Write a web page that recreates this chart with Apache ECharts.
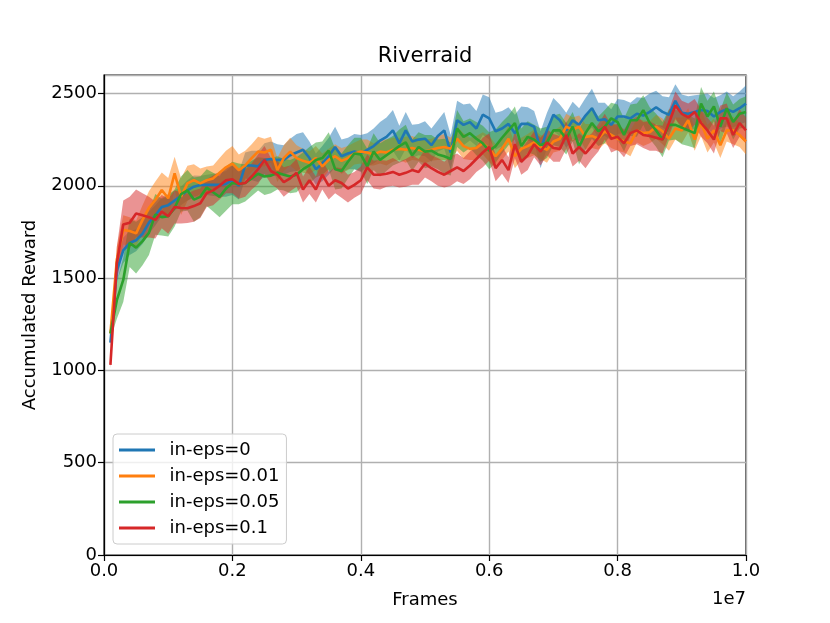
<!DOCTYPE html>
<html>
<head>
<meta charset="utf-8">
<script src="https://cdn.jsdelivr.net/npm/echarts@6/dist/echarts.min.js"></script>
<style>
html,body{margin:0;padding:0;background:#fff;}
#chart{width:830px;height:623px;}
</style>
</head>
<body>
<div id="chart"></div>
<script>
// Frames (x) : 1e5 .. 1e7, one point every 1e5 frames
const frames = Array.from({length:100}, (_, k) => (k + 1) * 1e5);
const seriesNames = ['in-eps=0', 'in-eps=0.01', 'in-eps=0.05', 'in-eps=0.1'];
const xTicks = ['0.0','0.2','0.4','0.6','0.8','1.0'];
const yTicks = [0, 500, 1000, 1500, 2000, 2500];

const epsBlue = [1150,1540,1650,1690,1705,1740,1800,1840,1885,1895,
 1920,1945,1975,1995,2004,2005,2005,2005,2010,2030,
 2000,2110,2110,2105,2140,2145,2140,2140,2165,2180,
 2195,2150,2090,2120,2160,2210,2160,2175,2185,2175,
 2195,2215,2245,2265,2300,2230,2300,2240,2250,2255,
 2220,2270,2300,2180,2355,2330,2345,2310,2385,2365,
 2295,2310,2335,2285,2335,2335,2320,2195,2300,2385,
 2355,2300,2355,2330,2380,2420,2355,2360,2330,2375,
 2375,2365,2390,2380,2400,2425,2400,2385,2460,2395,
 2390,2400,2410,2405,2375,2400,2415,2400,2420,2445];
const epsOrange = [1200,1600,1760,1755,1742,1815,1880,1923,1977,1932,
 2067,1941,2013,2031,2013,2030,2040,2070,2100,2120,
 2085,2110,2150,2185,2180,2195,2085,2150,2185,2150,
 2135,2125,2150,2105,2140,2160,2135,2150,2175,2185,
 2180,2170,2185,2180,2195,2200,2195,2205,2195,2185,
 2195,2205,2210,2200,2255,2215,2200,2205,2230,2200,
 2160,2200,2255,2160,2200,2215,2235,2210,2195,2240,
 2255,2320,2305,2320,2265,2270,2255,2295,2275,2255,
 2240,2230,2300,2285,2290,2320,2295,2255,2310,2300,
 2355,2250,2340,2255,2300,2220,2300,2300,2275,2240];
const epsGreen = [1200,1380,1490,1690,1665,1700,1745,1845,1830,1835,
 1880,1955,1975,1925,1940,1990,1965,1940,1985,2015,
 2010,2015,2040,2065,2050,2055,2070,2060,2050,2060,
 2090,2110,2140,2150,2190,2090,2080,2130,2175,2170,
 2105,2185,2140,2165,2190,2215,2235,2165,2210,2185,
 2190,2170,2160,2145,2310,2265,2285,2255,2230,2190,
 2215,2260,2300,2340,2215,2265,2250,2220,2235,2300,
 2300,2255,2320,2210,2285,2340,2295,2320,2365,2345,
 2275,2355,2355,2410,2340,2300,2250,2330,2330,2315,
 2300,2285,2445,2375,2430,2320,2420,2345,2390,2400];
const epsRed = [1030,1580,1790,1800,1850,1840,1830,1815,1860,1835,
 1885,1880,1878,1890,1905,1960,1975,2000,2030,2035,
 2010,2015,2050,2090,2140,2080,2060,2020,2040,2070,
 1980,2030,1980,2060,2000,2030,2015,1985,2005,2030,
 2100,2060,2060,2065,2075,2060,2070,2085,2075,2120,
 2095,2075,2060,2080,2100,2080,2110,2145,2180,2210,
 2095,2140,2085,2225,2130,2165,2225,2185,2235,2205,
 2200,2275,2175,2210,2175,2215,2260,2320,2255,2265,
 2230,2285,2300,2275,2270,2260,2250,2340,2435,2390,
 2370,2400,2340,2300,2250,2365,2365,2275,2340,2300];

// half-width of the shaded band around each curve
const spreadBlue = [20,60,70,65,60,55,60,55,50,60, 55,50,55,60,50,55,60,65,70,80,
 75,70,80,85,90,95,85,80,90,100, 95,90,85,95,100,110,90,85,95,100,
 90,95,100,105,110,95,100,90,85,95, 90,85,100,95,105,110,100,95,110,115,
 100,95,90,100,95,90,85,100,95,90, 85,95,100,90,95,105,95,90,85,95,
 90,85,90,95,100,90,85,95,90,100, 95,90,85,95,100,90,95,85,90,100];
const spreadOrange = [20,70,80,75,70,80,90,100,95,110, 90,100,95,85,80,75,70,80,90,95,
 85,80,75,80,75,70,65,70,75,70, 65,60,65,70,60,65,70,65,60,65,
 70,60,65,70,65,60,70,65,60,65, 60,65,70,60,65,70,60,65,60,70,
 65,60,70,65,60,65,70,65,70,60, 65,70,65,60,70,65,60,65,70,65,
 60,70,65,70,60,65,70,65,60,70, 65,60,70,75,65,70,60,75,65,70];
const spreadGreen = [30,100,120,130,140,130,120,110,100,110, 100,95,110,120,110,100,105,110,120,115,
 110,100,95,90,100,95,90,85,90,95, 90,100,95,90,100,110,95,90,85,90,
 95,100,90,85,80,90,95,85,80,90, 85,80,95,90,100,85,80,90,95,100,
 90,85,80,90,95,85,80,90,85,80, 90,85,80,95,90,85,80,90,85,95,
 90,85,90,80,85,90,95,85,80,90, 85,80,90,85,80,90,85,95,80,85];
const spreadRed = [20,90,130,140,130,120,110,100,90,95, 90,85,80,85,80,75,80,75,70,75,
 80,75,70,80,75,70,75,80,70,75, 70,75,70,80,75,70,80,75,70,75,
 70,75,80,70,75,70,75,80,70,75, 70,75,70,80,75,70,75,70,80,75,
 70,75,70,75,70,80,70,75,70,75, 70,75,70,75,80,70,75,70,75,70,
 75,70,75,70,80,70,75,70,75,70, 75,70,75,70,75,70,80,70,75,70];

const colors = ['#1f77b4', '#ff7f0e', '#2ca02c', '#d62728'];
const means = [epsBlue, epsOrange, epsGreen, epsRed];
const spreads = [spreadBlue, spreadOrange, spreadGreen, spreadRed];

const FONT = 'DejaVu Sans';
const series = [];
means.forEach((m, s) => {
  const sp = spreads[s];
  series.push({
    name: seriesNames[s], type: 'line', symbol: 'none', showSymbol: false,
    color: colors[s],
    lineStyle: {color: colors[s], width: 2.6},
    data: frames.map((f, i) => [f, m[i]])
  });
  // shaded band (mean ± spread) drawn through the cartesian coordinate system
  series.push({
    name: 'band-' + s, type: 'custom', silent: true,
    data: [[frames[0], m[0]]],
    encode: {x: 0, y: 1},
    renderItem: (params, api) => {
      const upper = frames.map((f, i) => api.coord([f, m[i] + sp[i]]));
      const lower = frames.map((f, i) => api.coord([f, m[i] - sp[i]])).reverse();
      return {
        type: 'polygon',
        shape: {points: upper.concat(lower)},
        style: {fill: colors[s], opacity: 0.5}
      };
    }
  });
});

const chart = echarts.init(document.getElementById('chart'), null, {renderer: 'canvas'});
chart.setOption({
  animation: false,
  backgroundColor: '#ffffff',
  textStyle: {fontFamily: FONT},
  grid: {left: 104, right: 84, top: 75, bottom: 68, show: true, borderColor: '#000', borderWidth: 1.2, backgroundColor: 'transparent'},
  legend: {
    data: seriesNames,
    orient: 'vertical', left: 113, top: 434,
    padding: [7, 7, 7, 6], itemGap: 8,
    itemWidth: 37, itemHeight: 3,
    icon: 'path://M0,0 L36,0 L36,3 L0,3 Z',
    backgroundColor: 'rgba(255,255,255,0.8)',
    borderColor: '#cccccc', borderWidth: 1, borderRadius: 4,
    textStyle: {fontFamily: FONT, fontSize: 18, color: '#000', padding: [0, 0, 0, 9]}
  },
  xAxis: {
    type: 'value', min: 0, max: 1e7, interval: 2e6,
    axisLine: {show: true, onZero: false, lineStyle: {color: '#000', width: 1.2}},
    axisTick: {show: true, length: 6, lineStyle: {color: '#000', width: 1.2}},
    axisLabel: {margin: 7, fontFamily: FONT, fontSize: 18, color: '#000',
      formatter: v => xTicks[Math.round(v / 2e6)]},
    splitLine: {show: true, lineStyle: {color: '#b0b0b0', width: 1.4}}
  },
  yAxis: {
    type: 'value', min: 0, max: 2600, interval: 500,
    axisLine: {show: true, lineStyle: {color: '#000', width: 1.2}},
    axisTick: {show: true, length: 6, lineStyle: {color: '#000', width: 1.2}},
    axisLabel: {margin: 7, fontFamily: FONT, fontSize: 18, color: '#000', showMaxLabel: false,
      formatter: v => (yTicks.indexOf(v) >= 0 ? String(v) : '')},
    splitLine: {show: true, lineStyle: {color: '#b0b0b0', width: 1.4}}
  },
  graphic: [
    {type: 'text', x: 425, y: 57, style: {text: 'Riverraid', fontFamily: FONT, fontSize: 21, fill: '#000', textAlign: 'center', textVerticalAlign: 'middle'}},
    {type: 'text', x: 425, y: 600, style: {text: 'Frames', fontFamily: FONT, fontSize: 18, fill: '#000', textAlign: 'center', textVerticalAlign: 'middle'}},
    {type: 'text', x: 746, y: 599, style: {text: '1e7', fontFamily: FONT, fontSize: 18, fill: '#000', textAlign: 'right', textVerticalAlign: 'middle'}},
    {type: 'text', x: 30, y: 315, rotation: Math.PI / 2, style: {text: 'Accumulated Reward', fontFamily: FONT, fontSize: 18, fill: '#000', textAlign: 'center', textVerticalAlign: 'middle'}}
  ],
  series: series
});
</script>
</body>
</html>
